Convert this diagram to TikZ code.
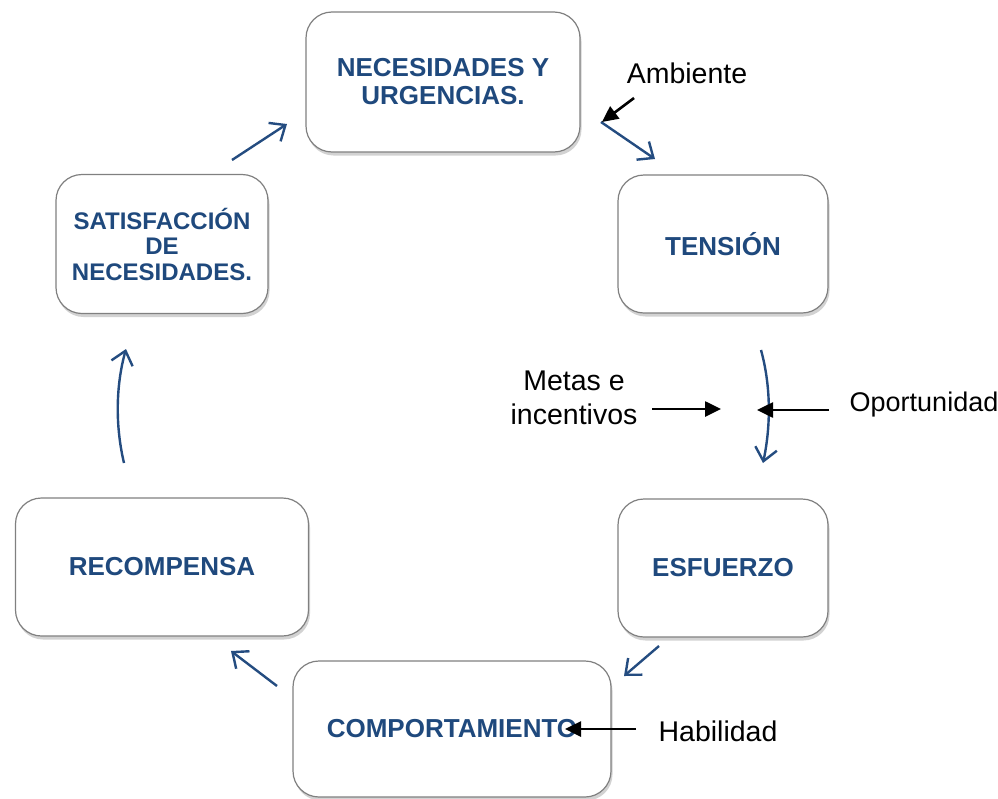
\documentclass[tikz,border=0pt]{standalone}
\usepackage{fontspec}
\setmainfont{Liberation Sans}
\usetikzlibrary{arrows.meta,shadows}
\definecolor{boxblue}{RGB}{31,73,125}
\definecolor{arrblue}{RGB}{36,76,128}
\definecolor{boxline}{RGB}{128,128,128}
\tikzset{
  stagebox/.style={draw=boxline, line width=1.2pt, fill=white, rounded corners=26pt,
    drop shadow={shadow xshift=1.5pt, shadow yshift=-3.5pt, opacity=0.35},
    align=center, inner sep=0pt, text=boxblue,
    font=\fontsize{26}{28}\selectfont\bfseries},
  cyclearrow/.style={draw=arrblue, line width=2.4pt,
    -{Straight Barb[length=13pt,width=22pt,line width=2.4pt]}},
  infarrow/.style={draw=black, line width=2.6pt, -{Triangle[length=16pt,width=15pt]}},
  lbl/.style={align=center, inner sep=0pt, font=\fontsize{28.5}{34}\selectfont}
}
\begin{document}
\begin{tikzpicture}[x=1pt,y=-1pt]
\useasboundingbox (0,0) rectangle (998,798);
\fill[white] (0,0) rectangle (998,798);

% boxes
\node[stagebox, minimum width=274pt, minimum height=140pt] (nec) at (443,82) {NECESIDADES Y\\URGENCIAS.};
\node[stagebox, minimum width=210pt, minimum height=138pt] (ten) at (723,244) {TENSIÓN};
\node[stagebox, minimum width=212pt, minimum height=139pt, font=\fontsize{24}{25.5}\selectfont\bfseries] (sat) at (162,244) {SATISFACCIÓN\\DE\\NECESIDADES.};
\node[stagebox, minimum width=210pt, minimum height=138pt] (esf) at (723,568) {ESFUERZO};
\node[stagebox, minimum width=293pt, minimum height=138pt] (rec) at (162,567) {RECOMPENSA};
\node[stagebox, minimum width=318pt, minimum height=136pt] (com) at (452,729) {COMPORTAMIENTO};

% cycle arrow endpoints
\coordinate (a1s) at (232,160); \coordinate (a1e) at (287,124);
\coordinate (a2s) at (601,122); \coordinate (a2e) at (655,159);
\coordinate (a3s) at (761,350); \coordinate (a3e) at (763,463);
\coordinate (a4s) at (659,646); \coordinate (a4e) at (624,676);
\coordinate (a5s) at (277,686); \coordinate (a5e) at (231,651);
\coordinate (a6s) at (124,463); \coordinate (a6e) at (126,349);

\draw[cyclearrow] (a1s) -- (a1e);
\draw[cyclearrow] (a2s) -- (a2e);
\draw[cyclearrow] (a3s) .. controls (772,390) and (770,430) .. (a3e);
\draw[cyclearrow] (a4s) -- (a4e);
\draw[cyclearrow] (a5s) -- (a5e);
\draw[cyclearrow] (a6s) .. controls (115,425) and (116,385) .. (a6e);

% labels
\node[lbl] (amb) at (687,73) {Ambiente};
\node[lbl] (met) at (574,398) {Metas e\\incentivos};
\node[lbl, font=\fontsize{27}{32}\selectfont] (opo) at (924,405) {Oportunidad};
\node[lbl] (hab) at (718,731) {Habilidad};

% influence arrows
\coordinate (b1s) at (634,98); \coordinate (b1e) at (602,122);
\coordinate (b2s) at (652,409); \coordinate (b2e) at (721,409);
\coordinate (b3s) at (829,410); \coordinate (b3e) at (757,410);
\coordinate (b4s) at (636,729); \coordinate (b4e) at (565,729);
\draw[infarrow] (b1s) -- (b1e);
\draw[infarrow] (b2s) -- (b2e);
\draw[infarrow] (b3s) -- (b3e);
\draw[infarrow] (b4s) -- (b4e);
\end{tikzpicture}
\end{document}
